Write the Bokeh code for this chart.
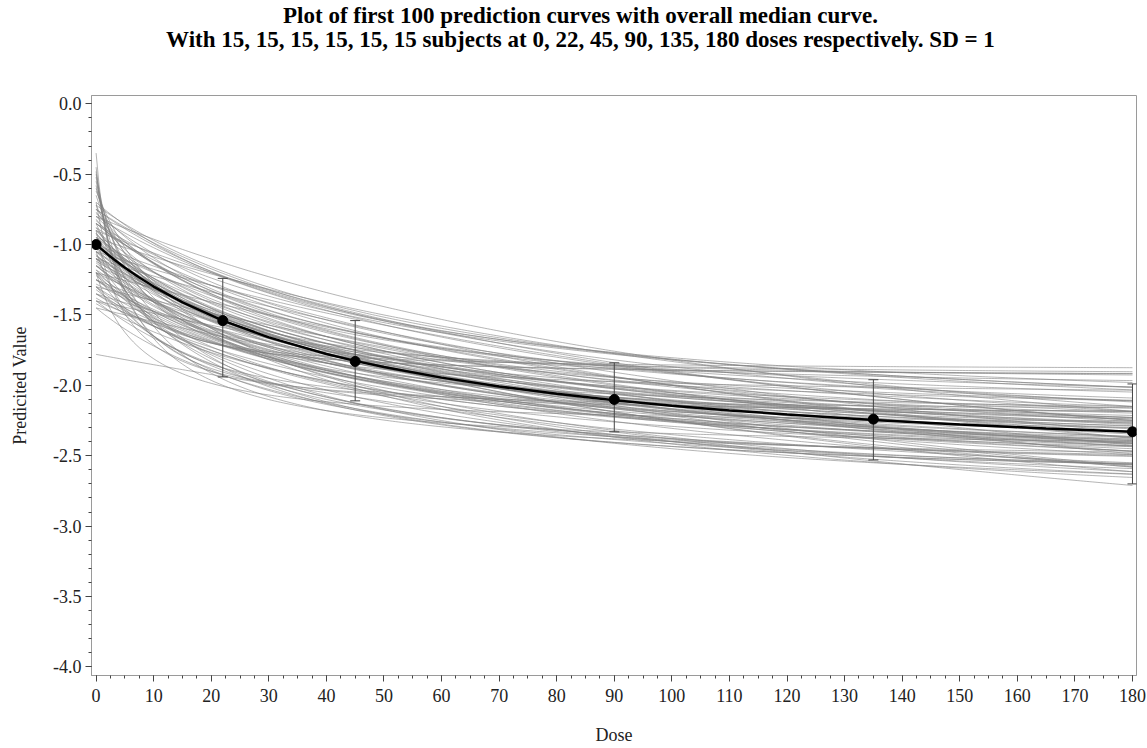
import numpy as np
from bokeh.plotting import figure
from bokeh.layouts import column
from bokeh.models import Range1d, SingleIntervalTicker, PrintfTickFormatter, Div
from bokeh.embed import file_html
from bokeh.resources import INLINE

title_line1 = "Plot of first 100 prediction curves with overall median curve."
title_line2 = "With 15, 15, 15, 15, 15, 15 subjects at 0, 22, 45, 90, 135, 180 doses respectively. SD = 1"
x_label = "Dose"
y_label = "Predicited Value"

# per-curve Emax parameters: E0, Emax, ED50
curve_e0 = [
    -0.70, -0.72, -0.75, -0.75, -0.78, -0.80, -0.80, -0.82, -0.85, -0.85,
    -0.88, -0.90, -0.90, -0.92, -0.95, -0.95, -0.97, -1.00, -1.00, -1.00,
    -1.02, -1.05, -1.05, -1.07, -1.10, -1.10, -1.12, -1.15, -1.15, -1.18,
    -1.20, -1.20, -1.22, -1.25, -1.25, -1.28, -1.30, -1.32, -1.35, -1.38,
    -1.40, -1.42, -0.88, -0.93, -0.98, -1.03, -1.08, -1.13, -0.83, -0.77,
    -0.80, -0.85, -0.95, -1.05, -1.10, -1.20, -1.25, -1.30, -1.35, -1.40,
    -1.45, -1.78, -1.15, -1.00, -0.90,
    -0.35, -0.45, -0.50, -0.55, -0.60, -0.65, -0.72, -0.48, -0.52, -0.58,
    -0.90, -1.05, -0.70, -1.20, -0.62,
    -1.00, -1.10, -0.85, -1.20, -1.30,
    -1.20, -1.30, -1.15, -1.05, -1.35, -0.95, -1.25, -1.40, -1.10, -1.45,
    -0.75, -1.00, -1.18, -0.92, -1.08,
]
curve_emax = [
    1.60, 1.75, 1.55, 1.90, 1.70, 1.65, 2.00, 1.50, 1.80, 1.55,
    1.95, 1.60, 1.75, 1.45, 1.85, 1.60, 1.50, 1.70, 1.45, 2.00,
    1.60, 1.55, 1.80, 1.35, 1.65, 1.45, 1.90, 1.55, 1.30, 1.70,
    1.50, 1.85, 1.35, 1.60, 1.40, 1.75, 1.45, 1.30, 1.55, 1.40,
    1.60, 1.30, 1.40, 1.70, 1.90, 1.50, 1.75, 1.60, 1.85, 1.45,
    2.50, 1.55, 2.20, 2.40, 2.60, 2.80, 2.50, 3.00, 2.60, 3.20,
    3.00, 3.00, 2.20, 2.60, 2.40,
    1.55, 1.50, 1.45, 1.55, 1.40, 1.60, 1.35, 1.75, 1.95, 2.00,
    1.30, 1.20, 1.25, 1.10, 1.85,
    1.75, 1.60, 1.90, 1.45, 1.40,
    1.75, 1.65, 1.95, 2.05, 1.60, 2.10, 1.90, 1.45, 2.30, 1.35,
    1.65, 1.55, 1.50, 1.80, 1.85,
]
curve_ed50 = [
    45, 60, 35, 70, 50, 40, 80, 30, 55, 45,
    75, 35, 50, 30, 65, 45, 40, 50, 35, 90,
    45, 50, 70, 30, 55, 40, 85, 50, 35, 65,
    45, 90, 40, 60, 45, 80, 55, 40, 70, 60,
    90, 55, 25, 45, 60, 38, 60, 50, 50, 30,
    145, 60, 150, 180, 200, 250, 150, 300, 200, 350,
    300, 400, 120, 160, 140,
    3, 4, 6, 8, 10, 12, 15, 5, 7, 10,
    6, 10, 5, 8, 18,
    22, 25, 20, 22, 30,
    40, 50, 60, 50, 60, 45, 80, 45, 100, 40,
    55, 55, 35, 40, 70,
]

# overall median curve
median_dose = [0, 2.5, 5, 7.5, 10, 15, 22, 30, 40, 45, 50, 60, 70, 80, 90,
               100, 110, 120, 135, 150, 165, 180]
median_value = [-1.000, -1.086, -1.164, -1.234, -1.298, -1.411, -1.540, -1.659,
                -1.777, -1.826, -1.870, -1.945, -2.008, -2.060, -2.105, -2.144,
                -2.178, -2.207, -2.246, -2.278, -2.306, -2.330]

# design doses: medians and interval limits
point_dose = [0, 22, 45, 90, 135, 180]
point_median = [-1.00, -1.54, -1.83, -2.10, -2.24, -2.33]
bar_dose = [22, 45, 90, 135, 180]
bar_upper = [-1.24, -1.54, -1.84, -1.96, -1.99]
bar_lower = [-1.94, -2.11, -2.33, -2.53, -2.70]

FONT = "Liberation Serif"
TITLE_H = 58

title_div = Div(
    text=(f'<div style="position:relative;left:7px;width:1147px;text-align:center;'
          f'font-family:\'{FONT}\';font-weight:bold;font-size:23px;line-height:24px;'
          f'padding-top:4px;color:black;white-space:nowrap;">'
          f'{title_line1}<br>{title_line2}</div>'),
    width=1147, height=TITLE_H, margin=(0, 0, 0, 0))

p = figure(width=1147, height=748 - TITLE_H, output_backend="svg",
           toolbar_location=None, margin=(0, 0, 0, 0),
           x_range=Range1d(-0.8, 180.7), y_range=Range1d(-4.061, 0.059),
           min_border_left=91, min_border_right=11, min_border_top=95 - TITLE_H,
           min_border_bottom=73)
p.title = None

grid_d = np.linspace(0, 180, 361)
xs, ys = [], []
for e0, em, ed in zip(curve_e0, curve_emax, curve_ed50):
    xs.append(grid_d)
    ys.append(e0 - em * grid_d / (ed + grid_d))
p.multi_line(xs, ys, line_color="#7f7f7f", line_alpha=0.58, line_width=1)

p.segment(x0=bar_dose, y0=bar_lower, x1=bar_dose, y1=bar_upper,
          line_color="#444444", line_width=1)
p.scatter(bar_dose + bar_dose, bar_lower + bar_upper, marker="dash", size=10,
          line_color="#444444", line_width=1)

p.line(median_dose, median_value, line_color="black", line_width=2.5)
p.scatter(point_dose, point_median, marker="circle", size=10,
          fill_color="black", line_color="black")

p.xgrid.visible = False
p.ygrid.visible = False
p.outline_line_color = "#9a9a9a"
p.outline_line_width = 1

p.xaxis.ticker = SingleIntervalTicker(interval=10, num_minor_ticks=4)
p.yaxis.ticker = SingleIntervalTicker(interval=0.5, num_minor_ticks=5)
p.yaxis.formatter = PrintfTickFormatter(format="%.1f")
p.xaxis.axis_label = x_label
p.yaxis.axis_label = y_label
for ax in (p.xaxis, p.yaxis):
    ax.axis_line_color = "#9a9a9a"
    ax.major_tick_line_color = "#444444"
    ax.minor_tick_line_color = "#444444"
    ax.major_tick_out = 6
    ax.major_tick_in = 0
    ax.minor_tick_out = 3
    ax.minor_tick_in = 0
    ax.major_label_text_font = FONT
    ax.major_label_text_font_size = "18px"
    ax.major_label_text_color = "#222222"
    ax.axis_label_text_font = FONT
    ax.axis_label_text_font_size = "18px"
    ax.axis_label_text_font_style = "normal"
    ax.axis_label_text_color = "#222222"
p.yaxis.major_label_standoff = 4
p.xaxis.major_label_standoff = 7
p.yaxis.axis_label_standoff = 20
p.xaxis.axis_label_standoff = 20

layout = column(title_div, p, spacing=0, margin=(0, 0, 0, 0))
open("out.html", "w").write(file_html(layout, INLINE))
